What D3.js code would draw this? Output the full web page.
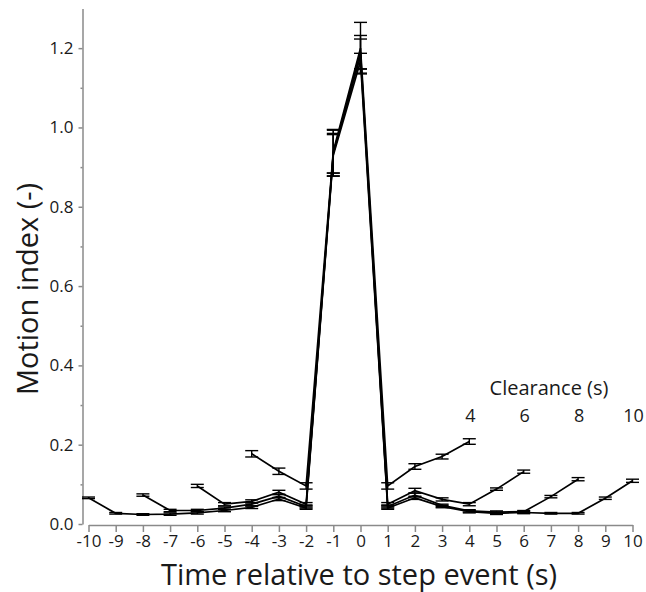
<!DOCTYPE html>
<html>
<head>
<meta charset="utf-8">
<script src="https://cdn.jsdelivr.net/npm/d3@7"></script>
<style>
  body { margin: 0; background: #fff; }
  svg text { font-family: "Open Sans", "Noto Sans", sans-serif; fill: #1a1a1a; }
</style>
</head>
<body>
<div id="chart"></div>
<script>
/* Chart values. */
const clearances = [4, 6, 8, 10];

const mean4 = [0.177, 0.133, 0.096, 0.94, 1.20, 0.096, 0.145, 0.170, 0.208];
const err4 = [0.008, 0.008, 0.008, 0.055, 0.065, 0.008, 0.007, 0.006, 0.007];

const mean6 = [0.096, 0.050, 0.057, 0.080, 0.050, 0.935, 1.19, 0.050, 0.084, 0.062, 0.050, 0.088, 0.132];
const err6 = [0.004, 0.004, 0.004, 0.005, 0.004, 0.058, 0.042, 0.004, 0.006, 0.004, 0.004, 0.003, 0.004];

const mean8 = [0.073, 0.034, 0.034, 0.040, 0.050, 0.070, 0.044, 0.935, 1.18, 0.044, 0.073, 0.047, 0.033, 0.030, 0.031, 0.069, 0.113];
const err8 = [0.003, 0.003, 0.003, 0.003, 0.004, 0.004, 0.004, 0.050, 0.043, 0.004, 0.005, 0.003, 0.003, 0.003, 0.003, 0.003, 0.004];

const mean10 = [0.066, 0.027, 0.024, 0.025, 0.028, 0.034, 0.042, 0.063, 0.040, 0.93, 1.167, 0.040, 0.066, 0.044, 0.031, 0.027, 0.029, 0.027, 0.027, 0.065, 0.109];
const err10 = [0.002, 0.002, 0.002, 0.003, 0.003, 0.003, 0.003, 0.004, 0.003, 0.052, 0.020, 0.003, 0.004, 0.003, 0.003, 0.003, 0.003, 0.002, 0.002, 0.003, 0.004];

const xTicks = d3.range(-10, 11);
const yTicks = [0, 0.2, 0.4, 0.6, 0.8, 1.0, 1.2];
const yMinorTicks = [0.1, 0.3, 0.5, 0.7, 0.9, 1.1];

/* Chart creation values. */
const W = 646, H = 592;
const x = d3.scaleLinear().domain([-10, 10]).range([88.5, 632.5]);
const y = d3.scaleLinear().domain([0, 1.3]).range([524, 8.5]);
const axisColor = '#8a8a8a';

const svg = d3.select('#chart').append('svg')
    .attr('width', W)
    .attr('height', H);

// Build series: time runs from -c to +c for clearance c.
const means = [mean4, mean6, mean8, mean10];
const errs = [err4, err6, err8, err10];
const series = clearances.map(function (c, k) {
    return means[k].map(function (m, i) {
        return {t: i - c, m: m, e: errs[k][i]};
    });
});

// X axis (plain hyphen for negatives, as in the figure).
const xAxis = svg.append('g')
    .attr('transform', 'translate(0,525)')
    .call(d3.axisBottom(x).tickValues(xTicks).tickSizeInner(7).tickSizeOuter(0).tickPadding(3)
        .tickFormat(function (d) { return String(d); }));
xAxis.selectAll('text').style('font-size', '17px');

// Y axis, minor then major ticks.
svg.append('g')
    .attr('transform', 'translate(82.5,0)')
    .call(d3.axisLeft(y).tickValues(yMinorTicks).tickSize(2).tickFormat(''))
    .select('.domain').remove();
const yAxis = svg.append('g')
    .attr('transform', 'translate(82.5,0)')
    .call(d3.axisLeft(y).tickValues(yTicks).tickSizeInner(4).tickSizeOuter(0).tickPadding(5)
        .tickFormat(d3.format('.1f')));
yAxis.selectAll('text').style('font-size', '17px');

svg.selectAll('.domain, .tick line')
    .attr('stroke', axisColor)
    .attr('stroke-width', 1.5);

// Lines.
const line = d3.line()
    .x(function (d) { return x(d.t); })
    .y(function (d) { return y(d.m); });

svg.append('g').selectAll('path')
    .data(series)
    .enter()
    .append('path')
    .attr('d', line)
    .attr('fill', 'none')
    .attr('stroke', '#000')
    .attr('stroke-width', 1.7);

// Error bars.
const capHalf = 6.5;
const bars = svg.append('g').selectAll('g')
    .data(series.flat())
    .enter()
    .append('g')
    .attr('stroke', '#000')
    .attr('stroke-width', 1.4);
bars.append('line')
    .attr('x1', function (d) { return x(d.t); })
    .attr('x2', function (d) { return x(d.t); })
    .attr('y1', function (d) { return y(d.m - d.e); })
    .attr('y2', function (d) { return y(d.m + d.e); });
bars.append('line')
    .attr('x1', function (d) { return x(d.t) - capHalf; })
    .attr('x2', function (d) { return x(d.t) + capHalf; })
    .attr('y1', function (d) { return y(d.m + d.e); })
    .attr('y2', function (d) { return y(d.m + d.e); });
bars.append('line')
    .attr('x1', function (d) { return x(d.t) - capHalf; })
    .attr('x2', function (d) { return x(d.t) + capHalf; })
    .attr('y1', function (d) { return y(d.m - d.e); })
    .attr('y2', function (d) { return y(d.m - d.e); });

// Clearance legend.
svg.append('text')
    .attr('x', 549)
    .attr('y', 395)
    .attr('text-anchor', 'middle')
    .style('font-size', '20px')
    .text('Clearance (s)');
svg.append('g').selectAll('text')
    .data(clearances)
    .enter()
    .append('text')
    .attr('x', function (d) { return x(d) + 1; })
    .attr('y', 422)
    .attr('text-anchor', 'middle')
    .style('font-size', '18px')
    .text(function (d) { return d; });

// Axis titles.
svg.append('text')
    .attr('x', 359)
    .attr('y', 585)
    .attr('text-anchor', 'middle')
    .style('font-size', '29px')
    .text('Time relative to step event (s)');
svg.append('text')
    .attr('transform', 'translate(38,289) rotate(-90)')
    .attr('text-anchor', 'middle')
    .style('font-size', '29px')
    .text('Motion index (-)');
</script>
</body>
</html>
